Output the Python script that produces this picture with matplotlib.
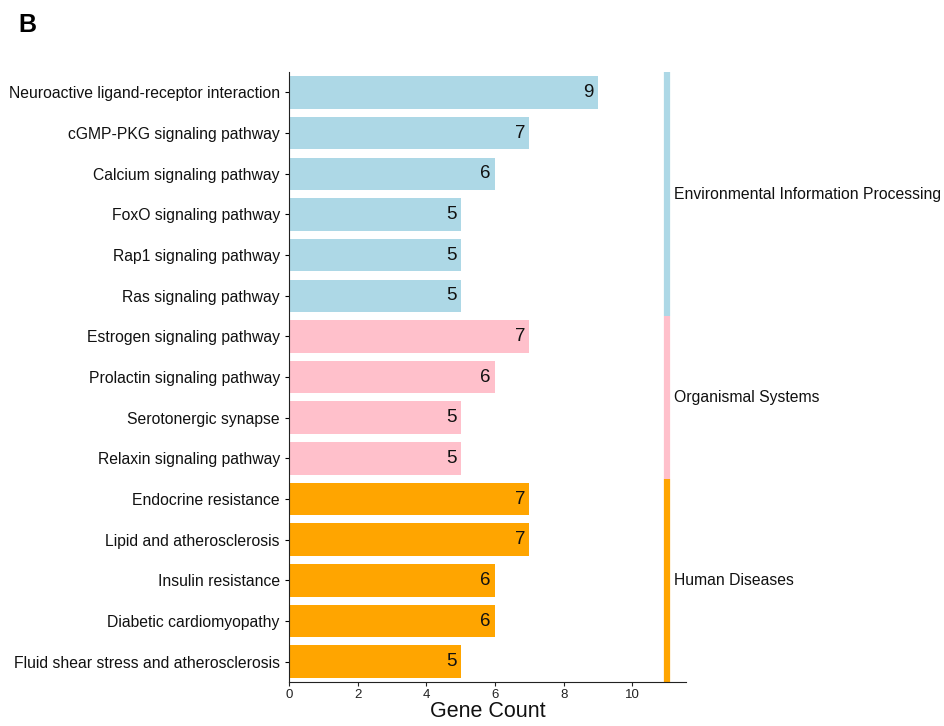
import matplotlib
matplotlib.use("Agg")
import matplotlib.pyplot as plt
import numpy as np

plt.rcParams['font.family'] = ['Liberation Sans', 'DejaVu Sans']

pathways = [
    "Neuroactive ligand-receptor interaction",
    "cGMP-PKG signaling pathway",
    "Calcium signaling pathway",
    "FoxO signaling pathway",
    "Rap1 signaling pathway",
    "Ras signaling pathway",
    "Estrogen signaling pathway",
    "Prolactin signaling pathway",
    "Serotonergic synapse",
    "Relaxin signaling pathway",
    "Endocrine resistance",
    "Lipid and atherosclerosis",
    "Insulin resistance",
    "Diabetic cardiomyopathy",
    "Fluid shear stress and atherosclerosis",
]
counts = [9, 7, 6, 5, 5, 5, 7, 6, 5, 5, 7, 7, 6, 6, 5]
groups = ["Environmental Information Processing"] * 6 + ["Organismal Systems"] * 4 + ["Human Diseases"] * 5
group_order = ["Environmental Information Processing", "Organismal Systems", "Human Diseases"]
group_colors = {"Environmental Information Processing": "#ADD8E6",
                "Organismal Systems": "#FFC0CB",
                "Human Diseases": "#FFA500"}

fig = plt.figure(figsize=(9.44, 7.26), dpi=100)
ax = fig.add_axes([0.306, 0.0606, 0.421, 0.840])

y = np.arange(len(pathways))
colors = [group_colors[g] for g in groups]
ax.barh(y, counts, height=0.8, color=colors)

for yi, c in zip(y, counts):
    ax.text(c - 0.12, yi, str(c), ha="right", va="center", fontsize=13.5, color="#111111")

# group strip on the right
bar_x = 11
for g in group_order:
    idx = [i for i, gg in enumerate(groups) if gg == g]
    lo, hi = min(idx) - 0.5, max(idx) + 0.5
    ax.plot([bar_x, bar_x], [lo, hi], color=group_colors[g], lw=4.5, solid_capstyle="butt", clip_on=False)
    ax.text(bar_x + 0.2, (lo + hi) / 2, g, ha="left", va="center", fontsize=11.3,
            color="#111111", clip_on=False)

ax.set_yticks(y)
ax.set_yticklabels(pathways, fontsize=11.3, color="#111111")
ax.set_ylim(len(pathways) - 0.5, -0.5)
ax.set_xlim(0, 11.57)
ax.set_xticks([0, 2, 4, 6, 8, 10])
ax.tick_params(axis="x", labelsize=9.5, length=3, pad=2, colors="#222222")
ax.tick_params(axis="y", length=3)
ax.set_xlabel("Gene Count", fontsize=15.5, labelpad=0, color="#111111")
for s in ["top", "right"]:
    ax.spines[s].set_visible(False)
for s in ["left", "bottom"]:
    ax.spines[s].set_color("#222222")

fig.text(0.019, 0.965, "B", fontsize=18, fontweight="bold", ha="left", va="center")

fig.savefig("out.png", dpi=100)
